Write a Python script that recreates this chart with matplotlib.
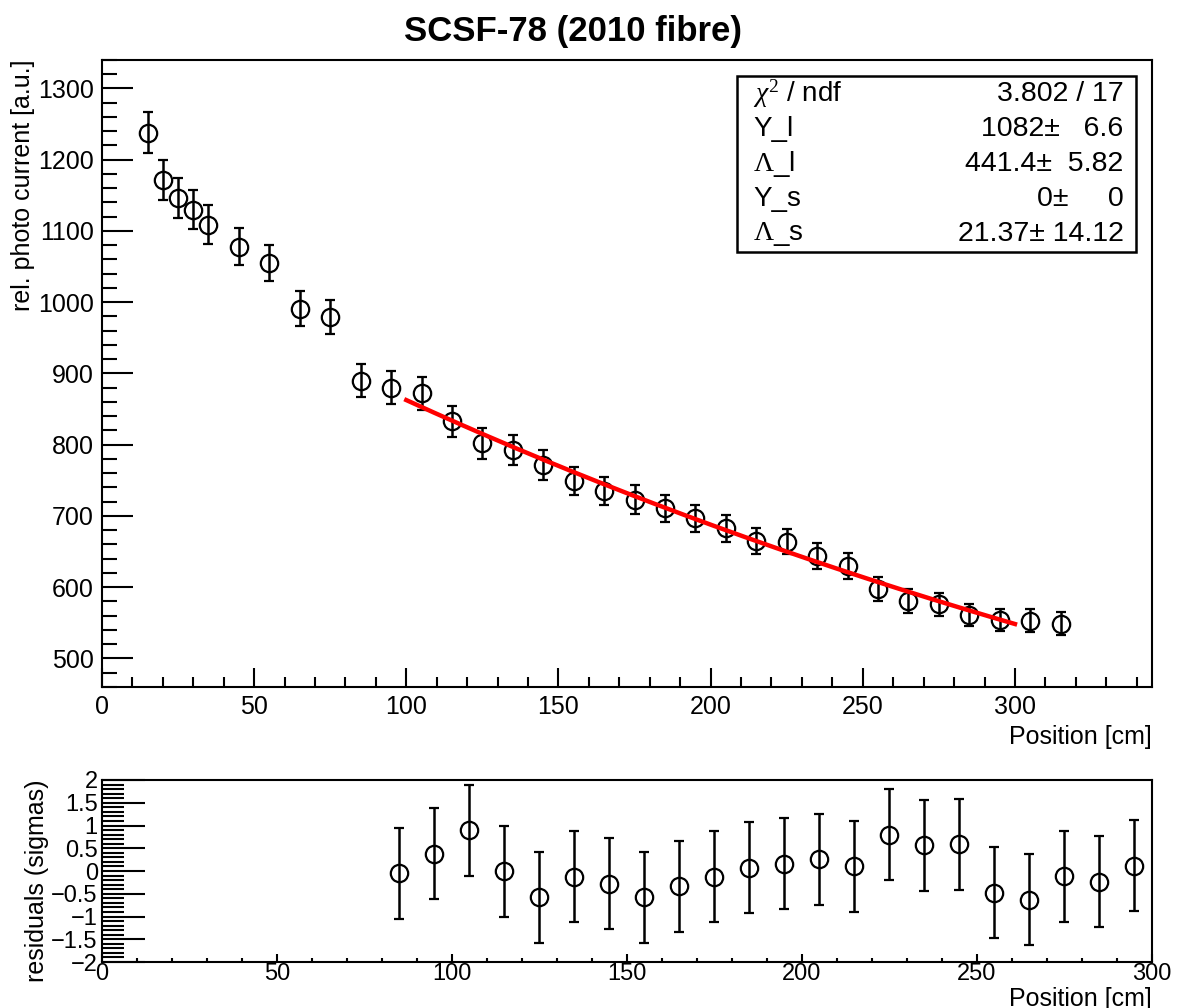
import numpy as np
import matplotlib
matplotlib.use("Agg")
import matplotlib.pyplot as plt
from matplotlib.ticker import MultipleLocator

plt.rcParams['font.family'] = ['Liberation Sans', 'DejaVu Sans']
plt.rcParams['mathtext.fontset'] = 'custom'
plt.rcParams['mathtext.rm'] = 'Liberation Serif'
plt.rcParams['mathtext.it'] = 'Liberation Serif:italic'

# ---- data ----
position = [15, 20, 25, 30, 35, 45, 55, 65, 75, 85, 95, 105, 115, 125, 135, 145,
            155, 165, 175, 185, 195, 205, 215, 225, 235, 245, 255, 265, 275, 285,
            295, 305, 315]
current = [1238, 1171, 1146, 1130, 1109, 1078, 1055, 991, 979, 890, 880, 872, 833,
           802, 792, 772, 749, 735, 723, 711, 697, 683, 665, 664, 644, 630, 598,
           581, 576, 561, 554, 553, 549]
current_err = [29, 28, 28, 27, 27, 26, 25, 25, 24, 23, 23, 23, 22, 22, 21, 21,
               20, 20, 20, 19, 19, 19, 18, 18, 18, 18, 17, 17, 16, 16, 16, 16, 16]

res_position = [85, 95, 105, 115, 125, 135, 145, 155, 165, 175, 185, 195, 205,
                215, 225, 235, 245, 255, 265, 275, 285, 295]
residuals = [-0.05, 0.38, 0.90, 0.0, -0.58, -0.13, -0.28, -0.58, -0.33, -0.13,
             0.07, 0.16, 0.26, 0.10, 0.80, 0.57, 0.59, -0.48, -0.63, -0.11,
             -0.24, 0.12]
res_err = [1.0] * len(residuals)

fit_range = [100, 300]
Y_l, Lambda_l, Y_s, Lambda_s = 1082.0, 441.4, 0.0, 21.37

stat_names = [r"$\chi^2$ / ndf", "Y_l", r"$\Lambda$_l", "Y_s", r"$\Lambda$_s"]
stat_values = ["3.802 / 17", "1082±   6.6", "441.4±  5.82", "0±     0", "21.37± 14.12"]

# ---- figure ----
fig = plt.figure(figsize=(11.8, 10.08), dpi=100)
ax = fig.add_axes([0.0864, 0.3185, 0.8898, 0.622])
axr = fig.add_axes([0.0864, 0.0456, 0.8898, 0.1806])

mk = dict(fmt='o', mfc='none', mec='black', ecolor='black', ms=12.5, mew=1.6,
          elinewidth=1.8, capsize=3.5, capthick=1.8, color='black')

ax.errorbar(position, current, yerr=current_err, **mk)
xf = np.linspace(fit_range[0], fit_range[1], 200)
yf = Y_l * np.exp(-xf / Lambda_l) + Y_s * np.exp(-xf / Lambda_s)
ax.plot(xf, yf, color='#ff0000', lw=3.2, zorder=3)

ax.set_xlim(0, 345)
ax.set_ylim(460, 1340)
ax.xaxis.set_major_locator(MultipleLocator(50))
ax.xaxis.set_minor_locator(MultipleLocator(10))
ax.yaxis.set_major_locator(MultipleLocator(100))
ax.yaxis.set_minor_locator(MultipleLocator(20))
ax.tick_params(axis='both', which='both', direction='in', top=False, right=False,
               width=1.5, labelsize=18)
ax.tick_params(axis='y', which='major', length=22, pad=6)
ax.tick_params(axis='y', which='minor', length=11)
ax.tick_params(axis='x', which='major', length=14, pad=6)
ax.tick_params(axis='x', which='minor', length=7)
for s in ax.spines.values():
    s.set_linewidth(1.5)
ax.set_ylabel("rel. photo current [a.u.]", fontsize=18, loc='top', labelpad=2)
ax.set_xlabel("Position [cm]", fontsize=18, loc='right', labelpad=4)

# stats box
bx0, bx1, by0, by1 = 0.605, 0.985, 0.694, 0.9745
ax.add_patch(plt.Rectangle((bx0, by0), bx1 - bx0, by1 - by0, transform=ax.transAxes,
                           fill=True, fc='white', ec='black', lw=1.8, zorder=5))
nrow = len(stat_names)
for i, (n, v) in enumerate(zip(stat_names, stat_values)):
    yy = by1 - (i + 0.5) * (by1 - by0) / nrow
    ax.text(bx0 + 0.015, yy, n, transform=ax.transAxes, fontsize=20,
            ha='left', va='center', zorder=6)
    ax.text(bx1 - 0.012, yy, v, transform=ax.transAxes, fontsize=20.5,
            ha='right', va='center', zorder=6)

fig.text(0.486, 0.969, "SCSF-78 (2010 fibre)", fontsize=25, fontweight='bold',
         ha='center', va='center')

# residuals
axr.errorbar(res_position, residuals, yerr=res_err, **mk)
axr.set_xlim(0, 300)
axr.set_ylim(-2, 2)
axr.xaxis.set_major_locator(MultipleLocator(50))
axr.xaxis.set_minor_locator(MultipleLocator(10))
axr.yaxis.set_minor_locator(MultipleLocator(0.1))
axr.set_yticks([2, 1.5, 1, 0.5, 0, -0.5, -1, -1.5, -2])
axr.set_yticklabels(['2', '1.5', '1', '0.5', '0', '\u22120.5', '\u22121', '\u22121.5', '\u22122'])
axr.tick_params(axis='both', which='both', direction='in', top=False, right=False,
                width=1.5, labelsize=17)
axr.tick_params(axis='y', which='major', length=31, pad=3)
axr.tick_params(axis='y', which='minor', length=16)
axr.tick_params(axis='x', which='major', length=6, pad=1)
axr.tick_params(axis='x', which='minor', length=3)
for s in axr.spines.values():
    s.set_linewidth(1.5)
axr.set_ylabel("residuals (sigmas)", fontsize=18, loc='top', labelpad=2)
axr.set_xlabel("Position [cm]", fontsize=18, loc='right', labelpad=1)

fig.savefig("out.png", dpi=100)
